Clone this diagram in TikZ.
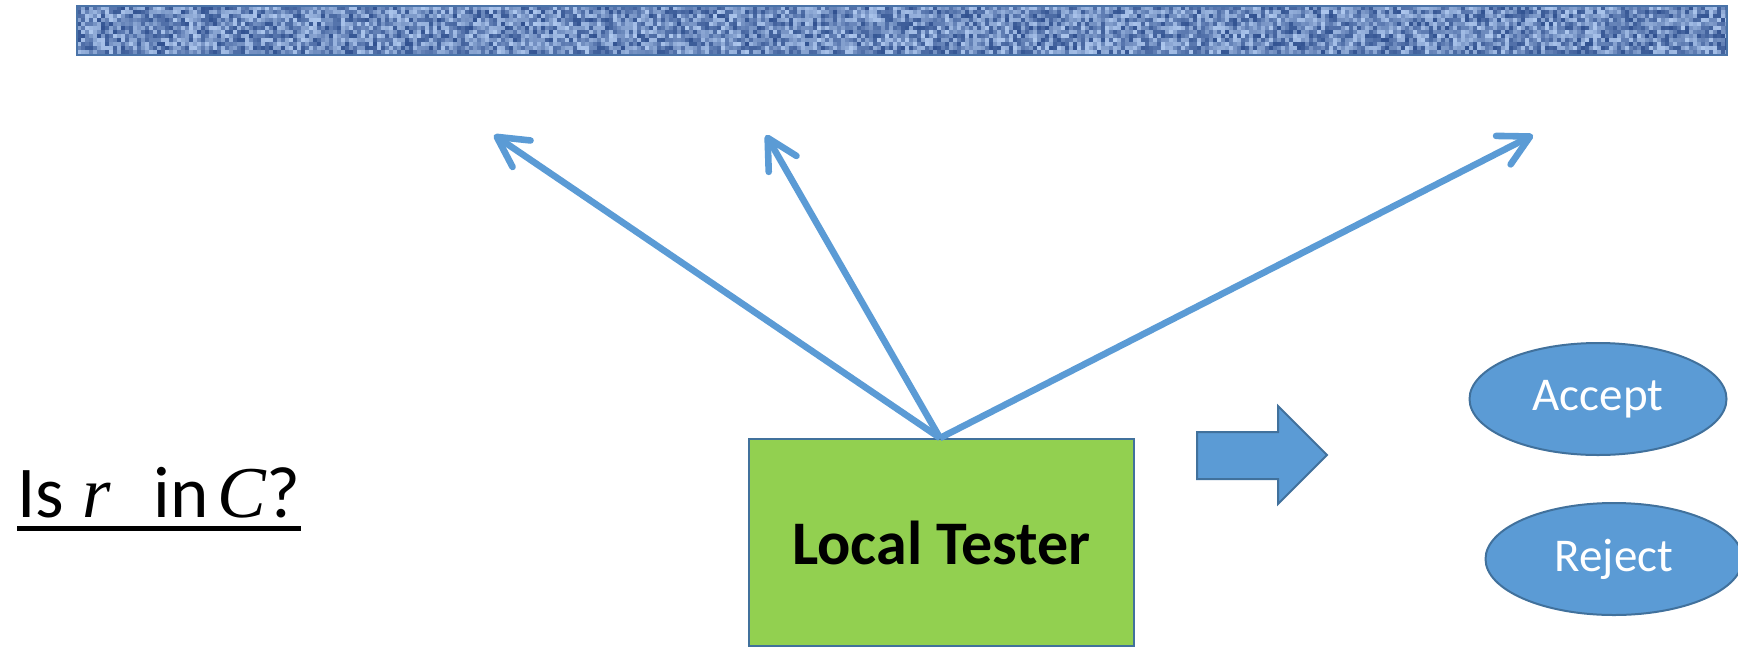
\documentclass[tikz,border=0pt]{standalone}
\usepackage{fontspec}
\setmainfont{Carlito}
\newfontfamily\varfont{Liberation Serif}
\usetikzlibrary{arrows.meta,shapes.geometric}

\definecolor{linkblue}{HTML}{5B9BD5}
\definecolor{edgeblue}{HTML}{41719C}
\definecolor{testgreen}{HTML}{92D050}
\definecolor{denimlight}{HTML}{B4CDF2}
\definecolor{denimdark}{HTML}{2B4C8C}
\definecolor{barborder}{HTML}{4A73A8}

\begin{document}
\begin{tikzpicture}[x=0.5pt,y=-0.5pt,
  probe/.style={draw=linkblue, line width=3.3pt,
    -{Straight Barb[length=15pt,width=16pt,line width=3.3pt,round]}},
  testerbox/.style={draw=edgeblue, line width=1pt, fill=testgreen,
    minimum width=192.5pt, minimum height=103.5pt, inner sep=0pt,
    font=\fontsize{31}{36}\selectfont\bfseries},
  verdict/.style={ellipse, draw=edgeblue, line width=1pt, fill=linkblue,
    minimum width=128.5pt, minimum height=56pt, inner sep=0pt,
    text=white, font=\fontsize{23.5}{28}\selectfont},
  blockarrow/.style={draw=edgeblue, line width=1pt, fill=linkblue, line join=miter}
]
\useasboundingbox (0,0) rectangle (1738,648);

% the textured word (tape) along the top
\begin{scope}
  \clip (77,6) rectangle (1727,55);
  \pgfmathsetseed{11}
  \foreach \i in {0,...,412} {
    \foreach \j in {0,...,12} {
      \pgfmathsetmacro\m{int(random(5,95))}
      \fill[denimdark!\m!denimlight] ({77+4*\i},{6+4*\j}) rectangle +(4,4);
    }
  }
\end{scope}
\draw[barborder, line width=1.2pt] (77,6) rectangle (1727,55);

% question on the left
\node[anchor=base west, inner sep=0pt, font=\fontsize{36.5}{42}\selectfont]
  (question) at (17,517)
  {Is\hspace{0.25em}{\varfont\itshape r}\hspace{0.58em}in\hspace{0.13em}{\varfont\itshape C}?};
\draw[line width=2.5pt] ([yshift=-5.5pt]question.base west) -- ([yshift=-5.5pt]question.base east);

% the tester and its queries
\node[testerbox] (tester) at (941.5,542.5) {Local Tester};
\coordinate (q1) at (494,135);
\coordinate (q2) at (766,135);
\coordinate (q3) at (1533,135);
\draw[probe] ([xshift=-0.75pt]tester.north) -- (q1);
\draw[probe] ([xshift=-0.75pt]tester.north) -- (q2);
\draw[probe] ([xshift=-0.75pt]tester.north) -- (q3);

% decision
\draw[blockarrow] (1197,432) -- (1278,432) -- (1278,406) -- (1327,455)
  -- (1278,504) -- (1278,479) -- (1197,479) -- cycle;
\node[verdict] (accept) at (1598,399) {Accept};
\node[verdict] (reject) at (1614,559) {Reject};
\end{tikzpicture}
\end{document}
